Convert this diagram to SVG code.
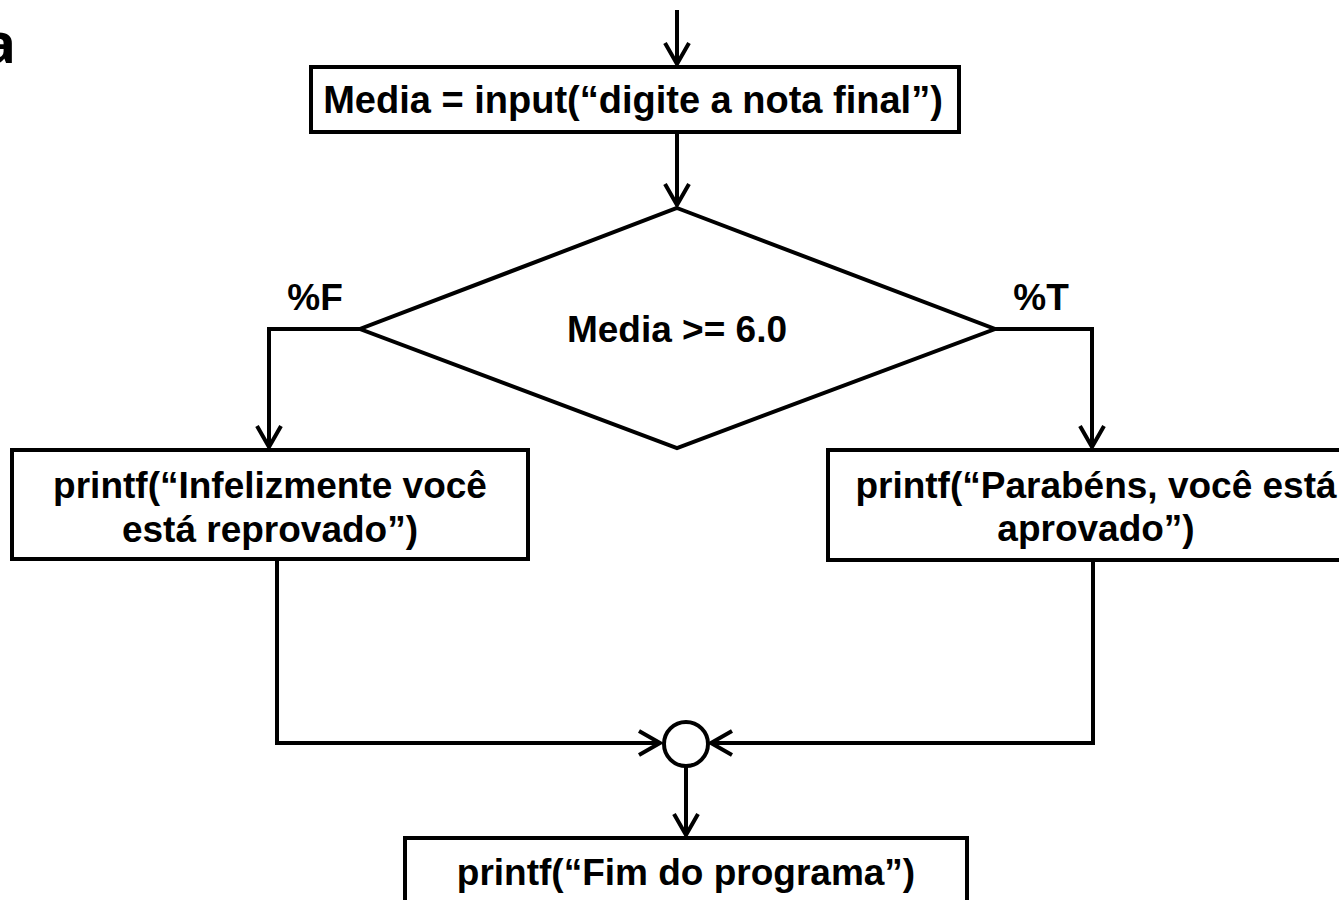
<svg xmlns="http://www.w3.org/2000/svg" width="1339" height="900" viewBox="0 0 1339 900">
<style>
.box{fill:#fff;stroke:#000;stroke-width:4}
.ln{fill:none;stroke:#000;stroke-width:4}
.t{font-family:"Liberation Sans",Arial,sans-serif;font-weight:bold;font-size:37px;fill:#000;text-anchor:middle}
</style>
<defs>
<marker id="arr" markerUnits="userSpaceOnUse" orient="auto" markerWidth="30" markerHeight="30" refX="0" refY="0" viewBox="-25 -15 30 30" overflow="visible">
<path d="M-21,-12 L0,0 L-21,12" fill="none" stroke="#000" stroke-width="4" stroke-linejoin="miter"/>
</marker>
</defs>
<rect width="1339" height="900" fill="#fff"/>
<text x="16" y="63" style="font-family:'Open Sans','Liberation Sans',sans-serif;font-weight:bold;font-size:56px;text-anchor:end">a</text>
<g id="connectors">
<line class="ln" x1="677" y1="10" x2="677" y2="64" marker-end="url(#arr)"/>
<line class="ln" x1="677" y1="132" x2="677" y2="205" marker-end="url(#arr)"/>
<polyline class="ln" points="360,329 269,329 269,447" marker-end="url(#arr)"/>
<polyline class="ln" points="995,329 1092,329 1092,447" marker-end="url(#arr)"/>
<polyline class="ln" points="277,559 277,743 660,743" marker-end="url(#arr)"/>
<polyline class="ln" points="1093,560 1093,743 711,743" marker-end="url(#arr)"/>
<line class="ln" x1="686" y1="767" x2="686" y2="835" marker-end="url(#arr)"/>
<text class="t" x="315" y="310">%F</text>
<text class="t" x="1041" y="310">%T</text>
</g>
<g id="n_input">
<rect class="box" x="311" y="67" width="648" height="65"/>
<text class="t" x="633" y="113" style="font-size:38px">Media = input(“digite a nota final”)</text>
</g>
<g id="n_decision">
<polygon class="box" points="677,208 995,329 677,448 360,329"/>
<text class="t" x="677" y="342">Media &gt;= 6.0</text>
</g>
<g id="n_reprovado">
<rect class="box" x="12" y="450" width="516" height="109"/>
<text class="t" x="270" y="498">printf(“Infelizmente você</text>
<text class="t" x="270" y="542">está reprovado”)</text>
</g>
<g id="n_aprovado">
<rect class="box" x="828" y="450" width="532" height="110"/>
<text class="t" x="1096" y="498">printf(“Parabéns, você está</text>
<text class="t" x="1096" y="541">aprovado”)</text>
</g>
<g id="n_join">
<circle class="box" cx="686" cy="744" r="22"/>
</g>
<g id="n_fim">
<rect class="box" x="405" y="838" width="562" height="90"/>
<text class="t" x="686" y="885">printf(“Fim do programa”)</text>
</g>
</svg>
